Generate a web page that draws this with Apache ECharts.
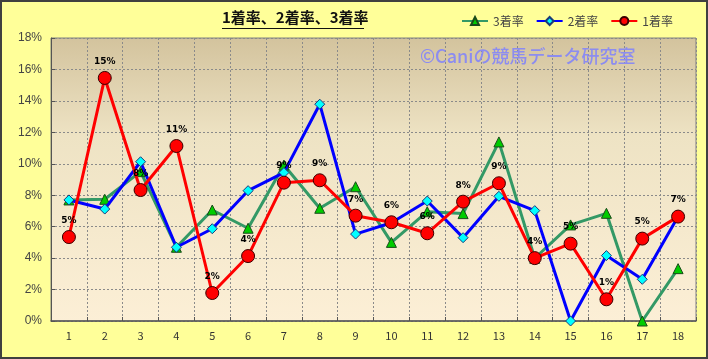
<!DOCTYPE html>
<html>
<head>
<meta charset="utf-8">
<script src="https://cdn.jsdelivr.net/npm/echarts@6/dist/echarts.min.js"></script>
<style>
html,body{margin:0;padding:0;background:#FFFF99;}
#c{width:708px;height:359px;}
</style>
</head>
<body>
<div id="c"></div>
<script>
const categories = ['1','2','3','4','5','6','7','8','9','10','11','12','13','14','15','16','17','18'];
const rate3 = [7.7, 7.74, 9.5, 4.69, 7.06, 5.9, 9.92, 7.17, 8.54, 5.0, 6.95, 6.83, 11.39, 3.99, 6.11, 6.85, 0, 3.33];
const rate2 = [7.7, 7.12, 10.13, 4.69, 5.87, 8.29, 9.44, 13.79, 5.53, 6.25, 7.63, 5.3, 7.93, 7.02, 0, 4.16, 2.65, 6.64];
const rate1 = [5.34, 15.46, 8.33, 11.13, 1.78, 4.13, 8.8, 8.95, 6.7, 6.28, 5.58, 7.59, 8.76, 4.0, 4.92, 1.38, 5.24, 6.64];
const seriesNames = ['3着率', '2着率', '1着率'];
const titleText = '1着率、2着率、3着率';
const watermark = '©Caniの競馬データ研究室';

const chart = echarts.init(document.getElementById('c'), null, {renderer: 'canvas'});
const font = '"Noto Sans CJK JP", "Liberation Sans", sans-serif';
chart.setOption({
  backgroundColor: '#FFFF99',
  animation: false,
  textStyle: {fontFamily: font},
  title: {
    text: titleText,
    left: 222, top: 10, padding: 0,
    textStyle: {fontSize: 15, fontWeight: 'bold', color: '#111', fontFamily: font}
  },
  legend: {
    data: seriesNames,
    left: 456, top: 10,
    itemWidth: 26, itemHeight: 10, itemGap: 12,
    textStyle: {fontSize: 12, color: '#444', fontFamily: font}
  },
  grid: {
    left: 51, right: 12, top: 38, bottom: 38,
    show: true,
    borderColor: '#808080', borderWidth: 1,
    backgroundColor: {
      type: 'linear', x: 0, y: 0, x2: 0, y2: 1,
      colorStops: [
        {offset: 0, color: '#D3C39D'},
        {offset: 0.35, color: '#EEE3C4'},
        {offset: 1, color: '#FCEFD6'}
      ]
    }
  },
  xAxis: {
    type: 'category',
    data: categories,
    boundaryGap: true,
    axisLine: {lineStyle: {color: '#555', width: 1.5}},
    axisTick: {show: true, inside: true, length: 4, lineStyle: {color: '#555'}},
    axisLabel: {fontSize: 11, color: '#333', margin: 9},
    splitLine: {show: true, lineStyle: {color: '#8a8a8a', type: [2, 2], width: 1}}
  },
  yAxis: {
    type: 'value',
    min: 0, max: 18, interval: 2,
    axisLine: {show: true, lineStyle: {color: '#555'}},
    axisTick: {show: true, inside: true, length: 4, lineStyle: {color: '#555'}},
    axisLabel: {formatter: '{value}%', fontSize: 12, color: '#444', margin: 9, fontFamily: '"Liberation Sans Narrow", "Liberation Sans", sans-serif'},
    splitLine: {show: true, lineStyle: {color: '#8a8a8a', type: [2, 2], width: 1}}
  },
  graphic: [
    {type: 'line', shape: {x1: 222, y1: 28.5, x2: 364, y2: 28.5}, style: {stroke: '#111', lineWidth: 1}, z: 10},
    {type: 'text', left: 420, top: 47, style: {text: watermark, fill: '#8C8CF0', font: '500 18px "Noto Sans CJK JP", sans-serif'}, z: 1},
    {type: 'rect', shape: {x: 1, y: 1, width: 706, height: 357}, style: {fill: 'none', stroke: '#404040', lineWidth: 2}, z: 100}
  ],
  series: [
    {
      name: seriesNames[0], type: 'line', data: rate3,
      symbol: 'triangle', symbolSize: 10,
      lineStyle: {color: '#339966', width: 3},
      itemStyle: {color: '#00CC00', borderColor: '#1A4A1A', borderWidth: 1},
      z: 2
    },
    {
      name: seriesNames[1], type: 'line', data: rate2,
      symbol: 'diamond', symbolSize: 10,
      lineStyle: {color: '#0000FF', width: 3},
      itemStyle: {color: '#00FFFF', borderColor: '#1A3A7A', borderWidth: 1},
      z: 3
    },
    {
      name: seriesNames[2], type: 'line', data: rate1,
      symbol: 'circle', symbolSize: 13,
      lineStyle: {color: '#FF0000', width: 3},
      itemStyle: {color: '#FF0000', borderColor: '#3A0000', borderWidth: 1},
      label: {
        show: true, position: 'top', distance: 5,
        formatter: p => Math.round(p.value) + '%',
        fontSize: 9, fontWeight: 'bold', color: '#000',
        fontFamily: '"DejaVu Sans", sans-serif'
      },
      z: 4
    }
  ]
});
</script>
</body>
</html>
